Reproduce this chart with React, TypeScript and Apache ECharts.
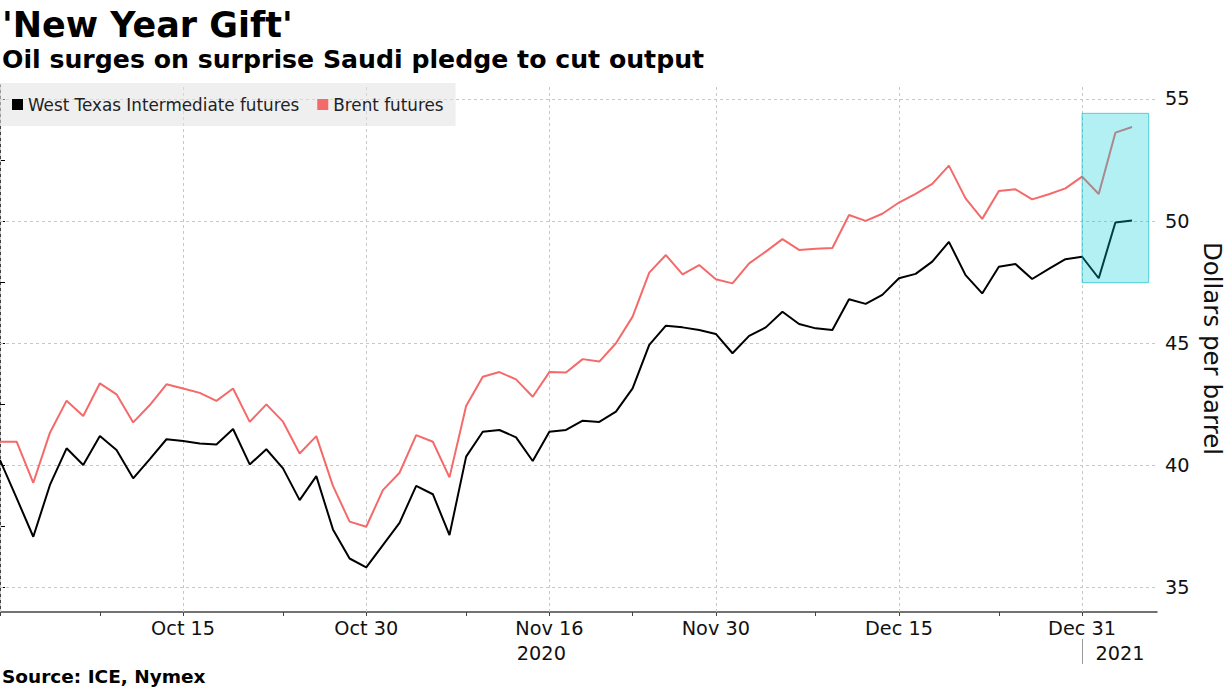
import React, { useEffect, useRef } from "react";
import * as echarts from "echarts";

// Trading days shown on the chart (x positions are their indices)
const dates = [
  "2020-09-30", "2020-10-01", "2020-10-02", "2020-10-05", "2020-10-06", "2020-10-07", "2020-10-08", "2020-10-09",
  "2020-10-12", "2020-10-13", "2020-10-14", "2020-10-15", "2020-10-16", "2020-10-19", "2020-10-20", "2020-10-21",
  "2020-10-22", "2020-10-23", "2020-10-26", "2020-10-27", "2020-10-28", "2020-10-29", "2020-10-30", "2020-11-02",
  "2020-11-03", "2020-11-04", "2020-11-05", "2020-11-06", "2020-11-09", "2020-11-10", "2020-11-11", "2020-11-12",
  "2020-11-13", "2020-11-16", "2020-11-17", "2020-11-18", "2020-11-19", "2020-11-20", "2020-11-23", "2020-11-24",
  "2020-11-25", "2020-11-26", "2020-11-27", "2020-11-30", "2020-12-01", "2020-12-02", "2020-12-03", "2020-12-04",
  "2020-12-07", "2020-12-08", "2020-12-09", "2020-12-10", "2020-12-11", "2020-12-14", "2020-12-15", "2020-12-16",
  "2020-12-17", "2020-12-18", "2020-12-21", "2020-12-22", "2020-12-23", "2020-12-24", "2020-12-28", "2020-12-29",
  "2020-12-30", "2020-12-31", "2021-01-04", "2021-01-05", "2021-01-06",
];

const wti = [
  40.22, 38.66, 37.08, 39.2, 40.7, 40.02, 41.2, 40.63, 39.47, 40.26, 41.07, 41.0, 40.9, 40.86, 41.49, 40.04,
  40.66, 39.88, 38.58, 39.56, 37.38, 36.19, 35.83, 36.74, 37.65, 39.16, 38.82, 37.15, 40.36, 41.38, 41.45, 41.15,
  40.18, 41.38, 41.45, 41.83, 41.78, 42.2, 43.15, 44.93, 45.72, 45.65, 45.54, 45.38, 44.59, 45.3, 45.65, 46.29,
  45.79, 45.61, 45.54, 46.8, 46.61, 46.98, 47.66, 47.84, 48.34, 49.15, 47.79, 47.04, 48.13, 48.24, 47.63, 48.04,
  48.44, 48.54, 47.66, 49.94, 50.02,
];

const brent = [
  40.97, 40.97, 39.29, 41.34, 42.65, 42.02, 43.36, 42.91, 41.76, 42.47, 43.32, 43.15, 42.97, 42.64, 43.15, 41.78,
  42.5, 41.79, 40.49, 41.2, 39.16, 37.7, 37.49, 38.99, 39.7, 41.24, 40.97, 39.51, 42.43, 43.63, 43.82, 43.52,
  42.81, 43.82, 43.8, 44.35, 44.25, 45.0, 46.09, 47.89, 48.61, 47.82, 48.2, 47.62, 47.45, 48.27, 48.75, 49.26,
  48.82, 48.87, 48.9, 50.25, 50.01, 50.3, 50.76, 51.11, 51.52, 52.27, 50.93, 50.09, 51.23, 51.3, 50.89, 51.1,
  51.34, 51.82, 51.11, 53.62, 53.85,
];

const seriesNames = ["West Texas Intermediate futures", "Brent futures"];
const labelDates = ["2020-10-15", "2020-10-30", "2020-11-16", "2020-11-30", "2020-12-15", "2020-12-31"];
const minorTickDates = ["2020-10-08", "2020-10-23", "2020-11-09", "2020-11-23", "2020-12-08", "2020-12-23"];
const yearLabels: Record<string, string> = { "2020-11-16": "2020", "2020-12-31": "2021" };
const yearSeparatorDates = ["2020-12-31"];
const yLabelTicks = [35, 40, 45, 50, 55];
const yMinorTicks = [37.5, 42.5, 47.5, 52.5];
const highlightFrom = "2020-12-31";
const highlightLow = 47.48;
const highlightHigh = 54.41;
const monthNames = ["Jan", "Feb", "Mar", "Apr", "May", "Jun", "Jul", "Aug", "Sep", "Oct", "Nov", "Dec"];

const FONT = "'DejaVu Sans', Verdana, sans-serif";

export default function App() {
  const ref = useRef<HTMLDivElement>(null);

  useEffect(() => {
    document.body.style.margin = "0";
    if (!ref.current) return;
    const chart = echarts.init(ref.current, undefined, { renderer: "svg" });

    const idx = (d: string) => dates.indexOf(d);
    const labelIdx = labelDates.map(idx);
    const tickIdx = [0, ...labelIdx, ...minorTickDates.map(idx)].sort((a, b) => a - b);
    const xMax = dates.length + 0.5;

    const fmtX = (v: number) => {
      const d = dates[Math.round(v)];
      if (!d) return "";
      const m = monthNames[parseInt(d.slice(5, 7), 10) - 1];
      const day = parseInt(d.slice(8, 10), 10);
      let s = `${m} ${day}`;
      if (yearLabels[d]) {
        s += `\n{${d === "2020-12-31" ? "yb" : "ya"}|${yearLabels[d]}}`;
      }
      return s;
    };

    chart.setOption({
      animation: false,
      textStyle: { fontFamily: FONT },
      title: [
        {
          text: "'New Year Gift'",
          left: 2,
          top: 7,
          padding: 0,
          textStyle: { fontSize: 35, fontWeight: "bold", color: "#000", fontFamily: FONT },
        },
        {
          text: "Oil surges on surprise Saudi pledge to cut output",
          left: 2,
          top: 47,
          padding: 0,
          textStyle: { fontSize: 25.2, fontWeight: "bold", color: "#000", fontFamily: FONT },
        },
        {
          text: "Source: ICE, Nymex",
          left: 2,
          top: 667,
          padding: 0,
          textStyle: { fontSize: 18.5, fontWeight: "bold", color: "#000", fontFamily: FONT },
        },
      ],
      legend: {
        data: seriesNames,
        left: 0,
        top: 83,
        icon: "rect",
        itemWidth: 11,
        itemHeight: 11,
        itemGap: 18,
        padding: [13, 12, 13, 12],
        backgroundColor: "rgba(225,225,225,0.55)",
        itemStyle: { borderWidth: 0 },
        textStyle: { fontSize: 16.8, color: "#222", fontFamily: FONT },
      },
      grid: { left: 0, right: 68, top: 85, bottom: 77, outerBoundsMode: "none", containLabel: false },
      xAxis: [
        {
          type: "value",
          min: 0,
          max: xMax,
          axisLine: { show: true, lineStyle: { color: "#444", width: 1.5 } },
          axisTick: { show: true, customValues: tickIdx, length: 4, lineStyle: { color: "#444" } },
          axisLabel: {
            customValues: labelIdx,
            formatter: fmtX,
            fontSize: 19.3,
            color: "#111",
            margin: 4,
            lineHeight: 25,
            rich: {
              ya: { fontSize: 19.3, color: "#111", lineHeight: 25, padding: [0, 16, 0, 0] },
              yb: { fontSize: 19.3, color: "#111", lineHeight: 25, padding: [0, 0, 0, 76] },
            },
          },
          splitLine: { show: false },
        },
        {
          type: "value",
          min: 0,
          max: xMax,
          position: "bottom",
          offset: 27,
          axisLine: { show: false },
          axisTick: {
            show: true,
            customValues: yearSeparatorDates.map(idx),
            length: 25,
            lineStyle: { color: "#999", width: 1 },
          },
          axisLabel: { show: false },
          splitLine: { show: false },
        },
      ],
      yAxis: {
        type: "value",
        position: "right",
        min: 34,
        max: 55.57,
        axisLine: { show: true, lineStyle: { color: "#000", width: 1.5 } },
        axisTick: {
          show: true,
          customValues: [...yLabelTicks, ...yMinorTicks].sort((a, b) => a - b),
          length: 5,
          lineStyle: { color: "#000" },
        },
        axisLabel: { customValues: yLabelTicks, fontSize: 19.3, color: "#111", margin: 8 },
        splitLine: { show: false },
        name: "Dollars per barrel",
        nameLocation: "middle",
        nameRotate: -90,
        nameGap: 39,
        nameTextStyle: { fontSize: 24.5, color: "#111", lineHeight: 24 },
      },
      series: [
        {
          type: "line",
          data: [],
          z: 1,
          silent: true,
          markLine: {
            silent: true,
            z: 1,
            symbol: ["none", "none"],
            label: { show: false },
            lineStyle: { type: [3, 3], color: "#c8c8c8", width: 1 },
            data: [
              ...yLabelTicks.map((v) => ({ yAxis: v })),
              ...[0, ...labelIdx].map((i) => ({ xAxis: i })),
            ],
          },
        },
        {
          name: seriesNames[0],
          type: "line",
          data: dates.map((d, i) => [i, wti[i]]),
          color: "#000000",
          lineStyle: { width: 2, color: "#000000" },
          showSymbol: false,
          symbol: "none",
          z: 3,
        },
        {
          name: seriesNames[1],
          type: "line",
          data: dates.map((d, i) => [i, brent[i]]),
          color: "#f46a6a",
          lineStyle: { width: 2, color: "#f46a6a" },
          showSymbol: false,
          symbol: "none",
          z: 3,
        },
        {
          type: "line",
          data: [],
          z: 10,
          silent: true,
          markArea: {
            silent: true,
            z: 10,
            itemStyle: {
              color: "rgba(0,205,215,0.3)",
              borderColor: "rgba(0,185,195,0.6)",
              borderWidth: 1,
            },
            data: [
              [
                { xAxis: idx(highlightFrom), yAxis: highlightLow },
                { xAxis: dates.length, yAxis: highlightHigh },
              ],
            ],
          },
        },
      ],
    });

    return () => chart.dispose();
  }, []);

  return <div ref={ref} style={{ width: 1225, height: 689 }} />;
}
